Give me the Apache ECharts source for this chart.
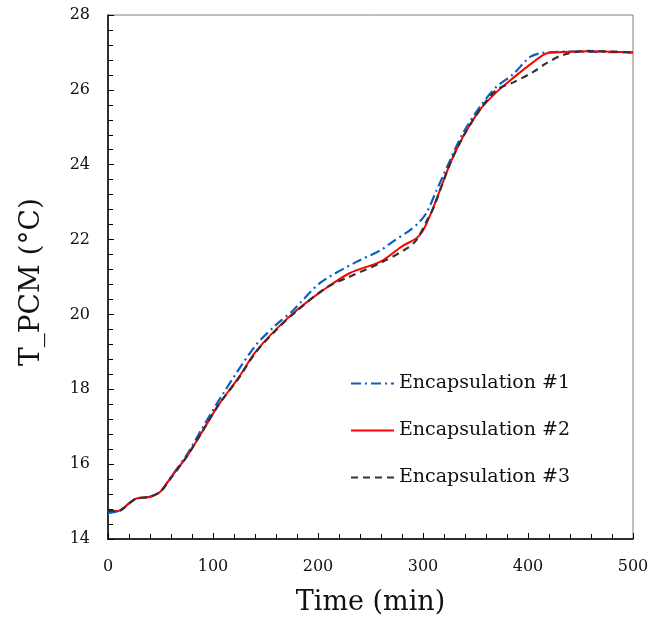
<!DOCTYPE html>
<html>
<head>
<meta charset="utf-8">
<script src="https://cdn.jsdelivr.net/npm/echarts@6/dist/echarts.min.js"></script>
<style>
  html, body { margin: 0; padding: 0; background: #fff; }
  #chart { width: 667px; height: 626px; }
</style>
</head>
<body>
<div id="chart"></div>
<script>
const seriesNames = ['Encapsulation #1', 'Encapsulation #2', 'Encapsulation #3'];

// [time (min), T_PCM (°C)]
const encap1 = [
    [0, 14.7], [10, 14.75], [20, 14.95], [27, 15.08], [40, 15.13], [50, 15.27],
    [60, 15.66], [75, 16.25], [90, 16.97], [110, 17.9], [140, 19.15], [160, 19.72],
    [176, 20.1], [202, 20.84], [237, 21.41], [260, 21.72], [269, 21.9], [288, 22.26],
    [297, 22.48], [304, 22.75], [313, 23.32], [326, 24.13], [338, 24.84], [354, 25.54],
    [370, 26.08], [386, 26.42], [402, 26.88], [414, 26.99], [440, 27.02], [500, 27.0]
];
const encap2 = [
    [0, 14.75], [10, 14.75], [20, 14.95], [27, 15.08], [40, 15.13], [50, 15.27],
    [60, 15.65], [75, 16.2], [90, 16.88], [105, 17.57], [125, 18.34], [140, 18.98],
    [160, 19.6], [180, 20.12], [205, 20.65], [230, 21.1], [260, 21.42], [280, 21.82],
    [294, 22.04], [300, 22.24], [310, 22.87], [326, 24.04], [338, 24.74], [354, 25.46],
    [370, 25.94], [386, 26.32], [405, 26.74], [418, 26.98], [433, 27.01], [460, 27.03],
    [500, 27.0]
];
const encap3 = [
    [0, 14.75], [10, 14.75], [20, 14.95], [27, 15.08], [40, 15.13], [50, 15.27],
    [60, 15.63], [75, 16.2], [90, 16.88], [105, 17.57], [125, 18.32], [140, 18.96],
    [160, 19.58], [180, 20.1], [208, 20.72], [227, 20.97], [259, 21.37], [285, 21.77],
    [294, 22.0], [304, 22.52], [310, 22.85], [326, 24.04], [338, 24.74], [354, 25.46],
    [370, 26.0], [386, 26.2], [405, 26.48], [418, 26.72], [433, 26.93], [456, 27.04],
    [500, 27.0]
];

const font = 'DejaVu Serif';
const chart = echarts.init(document.getElementById('chart'));

chart.setOption({
    animation: false,
    grid: {
        left: 108, right: 34, top: 15, bottom: 87,
        show: true, borderColor: '#808080', borderWidth: 1
    },
    legend: {
        orient: 'vertical',
        left: 345, top: 369,
        itemWidth: 43, itemHeight: 14, itemGap: 28,
        itemStyle: { opacity: 0 },
        textStyle: { fontFamily: font, fontSize: 19, color: '#111' },
        data: seriesNames
    },
    xAxis: {
        type: 'value', min: 0, max: 500, interval: 100,
        name: 'Time (min)', nameLocation: 'middle', nameGap: 50,
        nameTextStyle: { fontFamily: font, fontSize: 27, color: '#111' },
        axisLine: { lineStyle: { color: '#000', width: 1.5 } },
        axisTick: { inside: true, length: 6, lineStyle: { color: '#000' } },
        minorTick: { show: true, splitNumber: 5, length: 5, lineStyle: { color: '#000' } },
        axisLabel: { fontFamily: font, fontSize: 16, color: '#111', margin: 20 },
        splitLine: { show: false }
    },
    yAxis: {
        type: 'value', min: 14, max: 28, interval: 2,
        name: 'T_PCM (°C)', nameLocation: 'middle', nameGap: 62, nameMoveOverlap: false,
        nameTextStyle: { fontFamily: font, fontSize: 28, color: '#111', padding: [0, 10, 0, 0] },
        axisLine: { show: true, lineStyle: { color: '#000', width: 1.5 } },
        axisTick: { show: true, inside: true, length: 6, lineStyle: { color: '#000' } },
        minorTick: { show: true, splitNumber: 5, length: 5, lineStyle: { color: '#000' } },
        axisLabel: { fontFamily: font, fontSize: 16, color: '#111', margin: 18 },
        splitLine: { show: false }
    },
    series: [
        {
            name: seriesNames[0], type: 'line', data: encap1, smooth: 0.3,
            symbol: 'none', z: 3,
            itemStyle: { color: '#0563C1' },
            lineStyle: { color: '#0563C1', width: 2.2, type: [10, 4, 2, 4] }
        },
        {
            name: seriesNames[1], type: 'line', data: encap2, smooth: 0.3,
            symbol: 'none', z: 4,
            itemStyle: { color: '#FF0000' },
            lineStyle: { color: '#FF0000', width: 2 }
        },
        {
            name: seriesNames[2], type: 'line', data: encap3, smooth: 0.3,
            symbol: 'none', z: 5,
            itemStyle: { color: '#333333' },
            lineStyle: { color: '#333333', width: 2.2, type: [7, 5] }
        }
    ]
});
</script>
</body>
</html>
